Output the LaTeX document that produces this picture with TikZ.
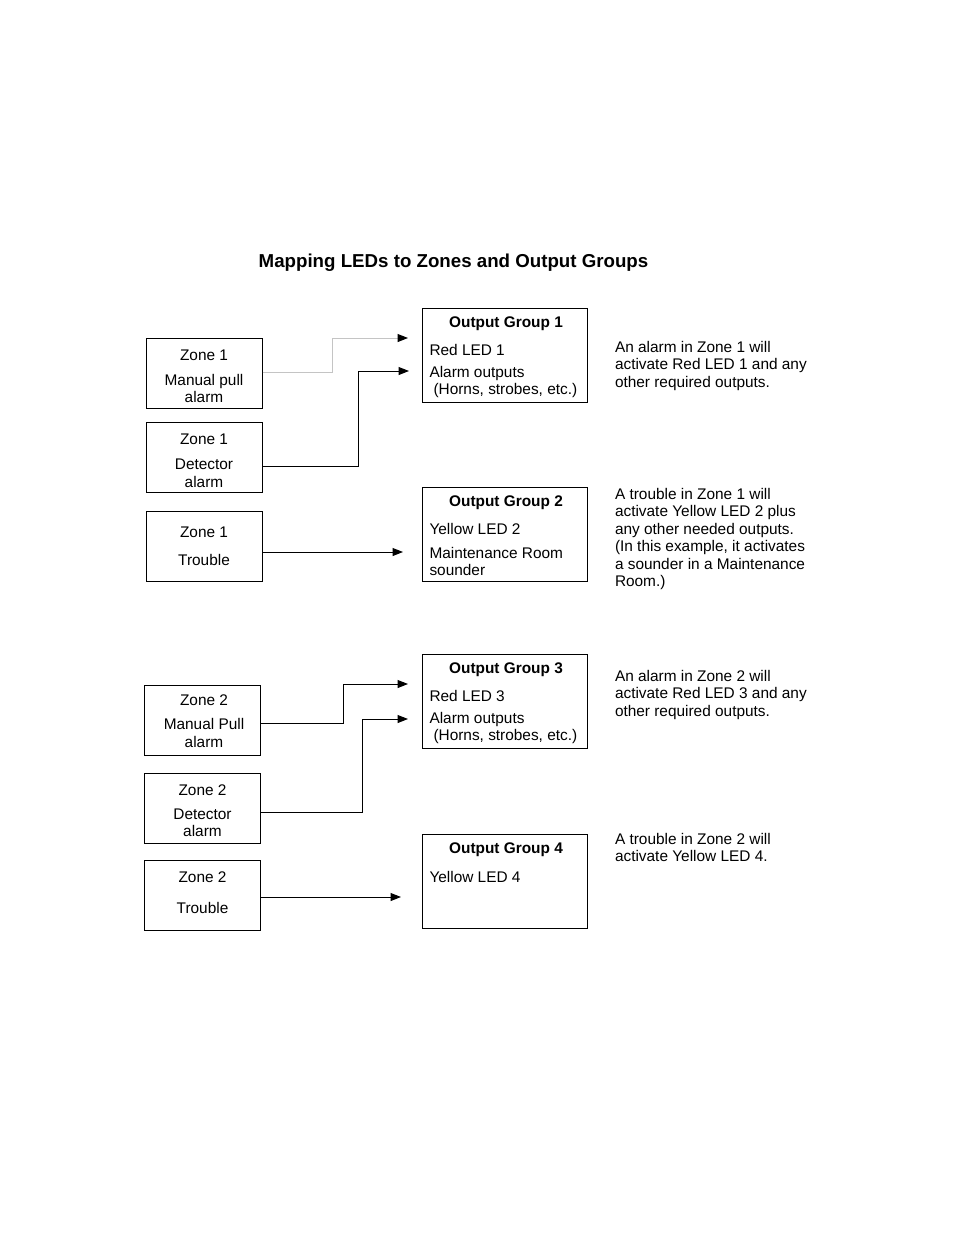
\documentclass[tikz,border=0pt]{standalone}
\usepackage{fontspec}
\setmainfont{Liberation Sans}
\usepackage{tikz}
\usetikzlibrary{arrows.meta, positioning}
\usepackage{xcolor}
\definecolor{mInk}{HTML}{000000}
\definecolor{mFaint}{HTML}{C4C4C4}

\begin{document}
\begin{tikzpicture}[x=1pt, y=-1pt,
  zonebox/.style={draw=mInk, line width=1pt, minimum width=116pt, minimum height=70pt, inner sep=0pt},
  groupbox/.style={draw=mInk, line width=1pt, minimum width=165pt, minimum height=94pt, inner sep=0pt},
  txt/.style={inner sep=0pt, outer sep=0pt, text=mInk, font=\fontsize{15.4}{17.5}\selectfont},
  zonetext/.style={txt, align=center},
  head/.style={txt, font=\fontsize{15.4}{17.5}\selectfont\bfseries},
  body/.style={txt, align=left},
  note/.style={txt, align=left, anchor=north west},
  feed/.style={-{Triangle[length=10.5pt, width=8pt]}, line width=1pt, mInk},
  faint/.style={draw=mFaint, -{Triangle[length=10.5pt, width=8pt, color=mInk]}}]
  \useasboundingbox (0,0) rectangle (954,1235);
  \node[txt, font=\fontsize{18.7}{22}\selectfont\bfseries, anchor=north] (ttl) at (453.5,253.5) {Mapping LEDs to Zones and Output Groups};
  % zones
  \node[zonebox] (z1pull) at (204,373) {};
  \node[zonebox] (z1det) at (204,457.5) {};
  \node[zonebox] (z1trb) at (204,546) {};
  \node[zonebox] (z2pull) at (202.5,720) {};
  \node[zonebox] (z2det) at (202.5,808.5) {};
  \node[zonebox] (z2trb) at (202.5,895) {};
  \node[zonetext, below=12.5pt of z1pull.north] (z1pullt) {Zone 1\\[7pt]Manual pull\\alarm};
  \node[zonetext, below=11.5pt of z1det.north] (z1dett) {Zone 1\\[8pt]Detector\\alarm};
  \node[zonetext, below=16pt of z1trb.north] (z1trbt) {Zone 1\\[10.5pt]Trouble};
  \node[zonetext, below=10.5pt of z2pull.north, xshift=1.5pt] (z2pullt) {Zone 2\\[6.5pt]Manual Pull\\alarm};
  \node[zonetext, below=11.5pt of z2det.north] (z2dett) {Zone 2\\[6.5pt]Detector\\alarm};
  \node[zonetext, below=12pt of z2trb.north] (z2trbt) {Zone 2\\[13.5pt]Trouble};
  % output groups
  \node[groupbox] (og1) at (504.5,355) {};
  \node[groupbox] (og2) at (504.5,534) {};
  \node[groupbox] (og3) at (504.5,701.5) {};
  \node[groupbox] (og4) at (504.5,881.5) {};
  \node[head, below=9pt of og1.north, xshift=1.5pt] (og1h) {Output Group 1};
  \node[head, below=9pt of og2.north, xshift=1.5pt] (og2h) {Output Group 2};
  \node[head, below=8.5pt of og3.north, xshift=1.5pt] (og3h) {Output Group 3};
  \node[head, below=9pt of og4.north, xshift=1.5pt] (og4h) {Output Group 4};
  \node[body, below right=37pt and 8pt of og1.north west] (og1t) {Red LED 1\\[4pt]Alarm outputs\\\hspace*{4pt}(Horns, strobes, etc.)};
  \node[body, below right=36.5pt and 8pt of og2.north west] (og2t) {Yellow LED 2\\[6.5pt]Maintenance Room\\sounder};
  \node[body, below right=36.5pt and 8pt of og3.north west] (og3t) {Red LED 3\\[4pt]Alarm outputs\\\hspace*{4pt}(Horns, strobes, etc.)};
  \node[body, below right=37.5pt and 8pt of og4.north west] (og4t) {Yellow LED 4};
  % notes
  \node[note] (n1) at (615,341) {An alarm in Zone 1 will\\activate Red LED 1 and any\\other required outputs.};
  \node[note] (n2) at (615,488) {A trouble in Zone 1 will\\activate Yellow LED 2 plus\\any other needed outputs.\\(In this example, it activates\\a sounder in a Maintenance\\Room.)};
  \node[note] (n3) at (615,670) {An alarm in Zone 2 will\\activate Red LED 3 and any\\other required outputs.};
  \node[note] (n4) at (615,833) {A trouble in Zone 2 will\\activate Yellow LED 4.};
  % connectors
  \coordinate (og1in) at (408,338);
  \coordinate (og1in2) at (409,371);
  \coordinate (og2in) at (403,552);
  \coordinate (og3in) at (408,684);
  \coordinate (og3in2) at (408,719);
  \coordinate (og4in) at (401,897);
  \draw[feed, faint] ([yshift=1pt]z1pull.east) -- ++(70,0) |- (og1in);
  \draw[feed] ([yshift=-8.5pt]z1det.east) -- ++(96,0) |- (og1in2);
  \draw[feed] ([yshift=-6pt]z1trb.east) -- (og2in);
  \draw[feed] ([yshift=-3pt]z2pull.east) -- ++(82,0) |- (og3in);
  \draw[feed] ([yshift=-3.5pt]z2det.east) -- ++(101,0) |- (og3in2);
  \draw[feed] ([yshift=-2pt]z2trb.east) -- (og4in);
\end{tikzpicture}
\end{document}
